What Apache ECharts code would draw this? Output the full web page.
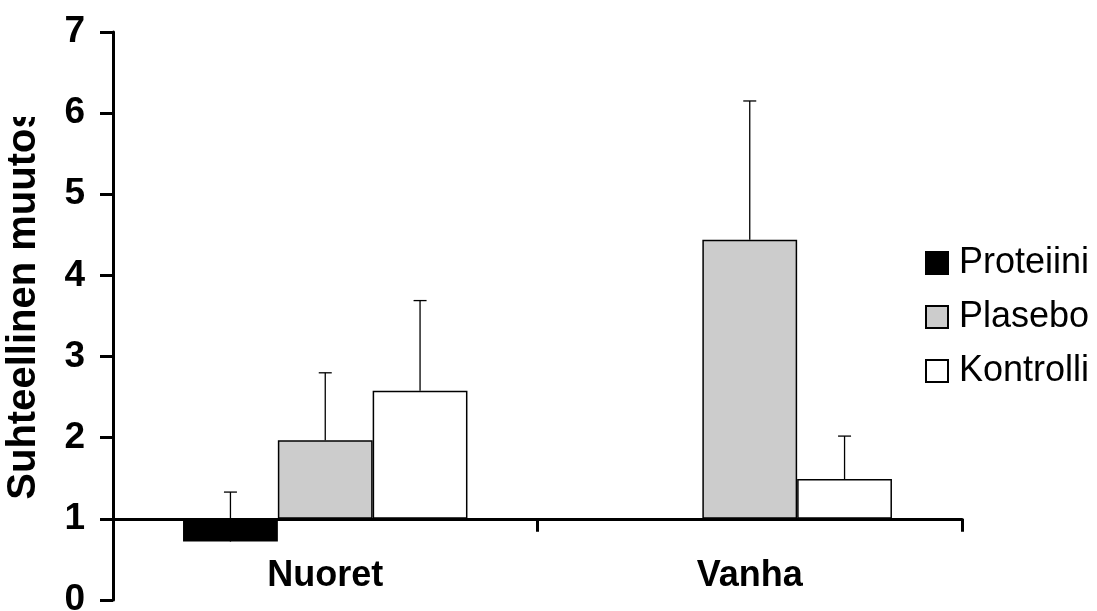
<!DOCTYPE html>
<html>
<head>
<meta charset="utf-8">
<script src="https://cdn.jsdelivr.net/npm/echarts@6/dist/echarts.min.js"></script>
<style>
html,body{margin:0;padding:0;background:#fff;}
#c{width:1097px;height:611px;}
</style>
</head>
<body>
<div id="c"></div>
<script>
const categories = ['Nuoret', 'Vanha'];
const seriesNames = ['Proteiini', 'Plasebo', 'Kontrolli'];
const proteiini = [0.72, null];
const plasebo = [1.97, 4.44];
const kontrolli = [2.58, 1.49];
const proteiiniErr = [0.61, null];
const plaseboErr = [0.83, 1.71];
const kontrolliErr = [1.11, 0.53];
const yTickLabels = ['0', '1', '2', '3', '4', '5', '6', '7'];
const yTitle = 'Suhteellinen muutos';
const baseline = 1;

const FONT = 'Liberation Sans';
const colors = ['#000000', '#cccccc', '#ffffff'];
const values = [proteiini, plasebo, kontrolli];
const errs = [proteiiniErr, plaseboErr, kontrolliErr];
const catGap = 0.33;

const barSeries = seriesNames.map((name, si) => ({
  name: name,
  type: 'bar',
  barGap: '0%',
  barCategoryGap: (catGap * 100) + '%',
  itemStyle: { color: colors[si], borderColor: '#000', borderWidth: 1.5 },
  data: values[si].map(v => v == null ? '-' : +(v - baseline).toFixed(4)),
  z: 2
}));

const errData = [];
seriesNames.forEach((name, si) => {
  values[si].forEach((v, ci) => {
    if (v != null && errs[si][ci] != null) errData.push([ci, v - baseline, errs[si][ci], si]);
  });
});

const errSeries = {
  type: 'custom',
  name: 'err',
  z: 3,
  data: errData,
  renderItem: function (params, api) {
    const ci = api.value(0), val = api.value(1), err = api.value(2), si = api.value(3);
    const catW = api.size([1, 0])[0];
    const barW = catW * (1 - catGap) / 3;
    const p0 = api.coord([ci, val]);
    const p1 = api.coord([ci, val + err]);
    const x = p0[0] + (si - 1) * barW;
    const cap = 6.5;
    const st = { stroke: '#000', lineWidth: 1.3 };
    return {
      type: 'group',
      children: [
        { type: 'line', shape: { x1: x, y1: p0[1], x2: x, y2: p1[1] }, style: st },
        { type: 'line', shape: { x1: x - cap, y1: p1[1], x2: x + cap, y2: p1[1] }, style: st }
      ]
    };
  }
};

const chart = echarts.init(document.getElementById('c'), null, { renderer: 'canvas' });
chart.setOption({
  animation: false,
  backgroundColor: '#fff',
  grid: { left: 113, right: 135, top: 32, bottom: 11, containLabel: false, outerBoundsMode: 'none' },
  legend: {
    data: seriesNames,
    orient: 'vertical',
    left: 920,
    top: 240,
    itemWidth: 22,
    itemHeight: 22,
    itemGap: 18,
    selectedMode: false,
    icon: 'rect',
    textStyle: { fontFamily: FONT, fontSize: 36, color: '#000', padding: [0, 0, 0, 6] }
  },
  xAxis: {
    type: 'category',
    data: categories,
    axisLine: { onZero: true, lineStyle: { color: '#000', width: 3 } },
    axisTick: { show: true, length: 13, lineStyle: { color: '#000', width: 3 } },
    axisLabel: { fontFamily: FONT, fontSize: 36, fontWeight: 'bold', color: '#000', margin: -42 },
    splitLine: { show: false }
  },
  yAxis: {
    type: 'value',
    min: 0 - baseline,
    max: 7 - baseline,
    interval: 1,
    name: yTitle,
    nameLocation: 'middle',
    nameGap: 69,
    nameTextStyle: { fontFamily: FONT, fontSize: 40, fontWeight: 'bold', color: '#000', padding: [0, 0, 0, 26] },
    axisLine: { show: true, lineStyle: { color: '#000', width: 3 } },
    axisTick: { show: true, length: 13, lineStyle: { color: '#000', width: 3 } },
    axisLabel: {
      fontFamily: FONT, fontSize: 37, fontWeight: 'bold', color: '#000', margin: 28,
      formatter: v => yTickLabels[Math.round(v + baseline)]
    },
    splitLine: { show: false }
  },
  graphic: [
    { type: 'rect', left: 0, top: 0, z: 100, shape: { width: 55, height: 117 }, style: { fill: '#fff' } }
  ],
  series: barSeries.concat([errSeries])
});
</script>
</body>
</html>
